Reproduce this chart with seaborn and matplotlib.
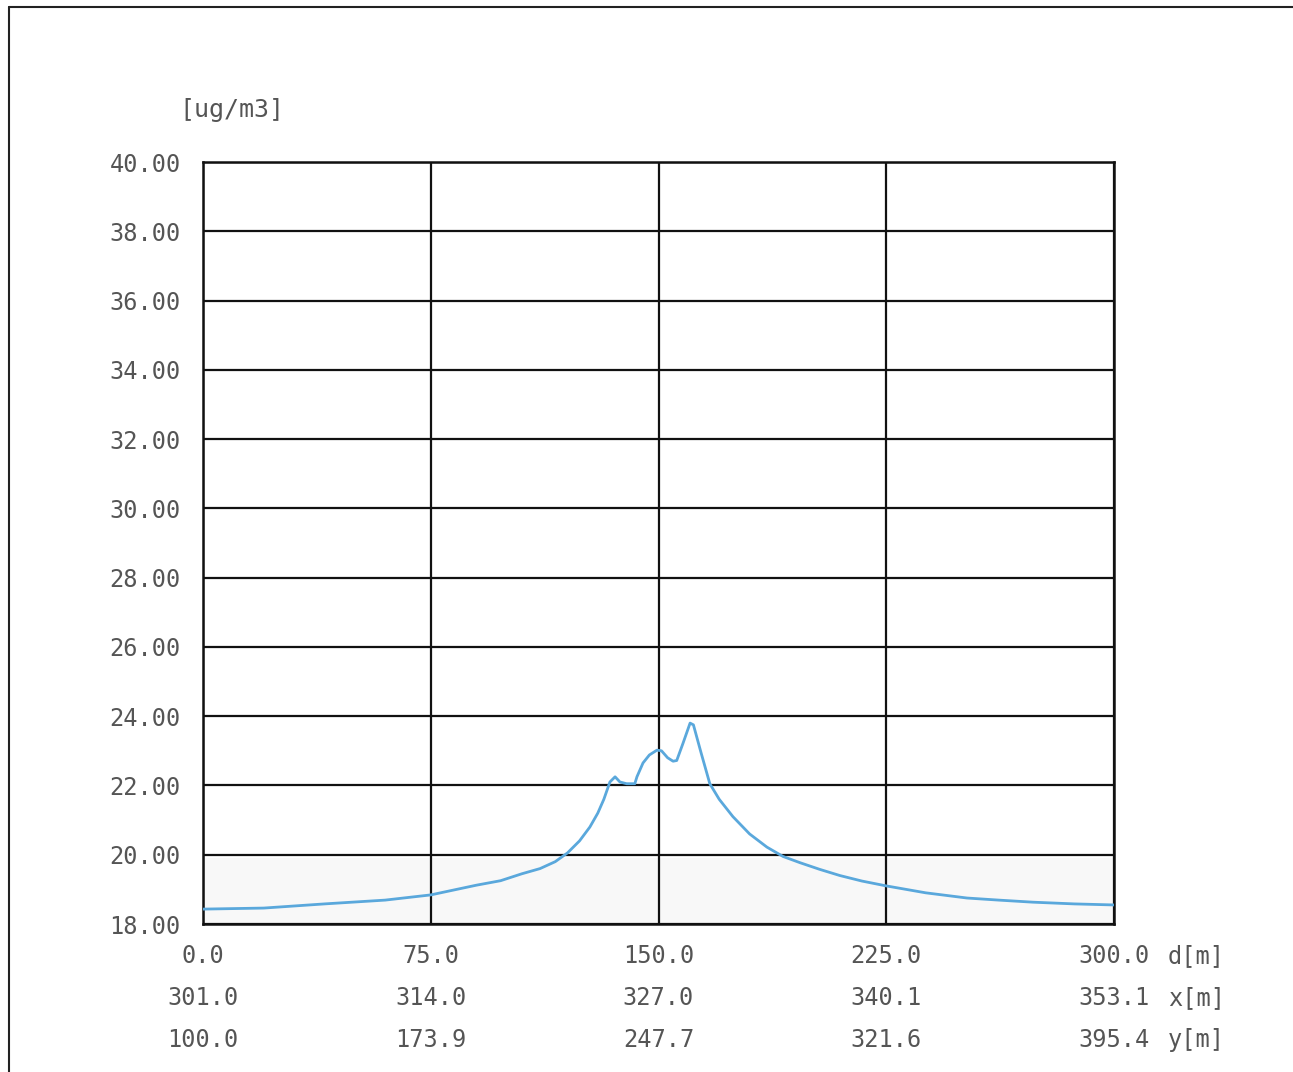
import matplotlib
matplotlib.use("Agg")
import matplotlib.pyplot as plt
import matplotlib.lines as mlines
import seaborn as sns
import pandas as pd
from matplotlib.transforms import blended_transform_factory

# ---- data ----
distance_m = [0, 20, 40, 60, 75, 90, 98, 105, 111, 116, 120, 124, 127.4, 130, 132,
              134, 135.7, 137.3, 139.5, 142.2, 142.9, 144.9, 147, 149.5, 151, 153,
              154.8, 156, 158, 160.4, 161.5, 164, 166.9, 170, 174.5, 180, 185.7,
              191, 196.6, 203, 209.7, 217, 225, 238, 251.6, 262, 273.3, 287, 300]
concentration = [18.43, 18.46, 18.58, 18.69, 18.84, 19.12, 19.25, 19.45, 19.6, 19.8,
                 20.05, 20.4, 20.8, 21.2, 21.6, 22.1, 22.25, 22.1, 22.05, 22.05,
                 22.25, 22.65, 22.88, 23.02, 23.0, 22.8, 22.7, 22.72, 23.2, 23.8,
                 23.75, 22.95, 22.05, 21.6, 21.1, 20.6, 20.22, 19.95, 19.77, 19.58,
                 19.4, 19.24, 19.1, 18.9, 18.75, 18.69, 18.63, 18.58, 18.55]

d_ticks = [0, 75, 150, 225, 300]
d_labels = ["0.0", "75.0", "150.0", "225.0", "300.0"]
x_labels = ["301.0", "314.0", "327.0", "340.1", "353.1"]
y_labels = ["100.0", "173.9", "247.7", "321.6", "395.4"]
row_units = ["d[m]", "x[m]", "y[m]"]
conc_ticks = [18, 20, 22, 24, 26, 28, 30, 32, 34, 36, 38, 40]
unit_label = "[ug/m3]"

df = pd.DataFrame({"d": distance_m, "c": concentration})

sns.set_style("white")
plt.rcParams["font.family"] = ["DejaVu Sans Mono", "DejaVu Sans"]
TXT = "#555555"

W, H = 1293, 1072
fig = plt.figure(figsize=(W / 100, H / 100), dpi=100)
ax = fig.add_axes([203 / W, 1 - 924 / H, (1114 - 203) / W, (924 - 162) / H])

ax.axhspan(18, 19.9, color="#f8f8f8", zorder=0, lw=0)

sns.lineplot(data=df, x="d", y="c", ax=ax, color="#5aa8dc", lw=2.0, zorder=5)

ax.set_xlim(0, 300)
ax.set_ylim(18, 40)
ax.set_xticks(d_ticks)
ax.set_xticklabels([])
ax.set_yticks(conc_ticks)
ax.set_yticklabels([f"{v:.2f}" for v in conc_ticks], fontsize=17, color=TXT)
ax.tick_params(axis="both", length=0)
ax.tick_params(axis="y", pad=16)
ax.set_xlabel("")
ax.set_ylabel("")
ax.grid(True, color="#111111", lw=1.6)
ax.set_axisbelow(True)
for s in ax.spines.values():
    s.set_color("#111111")
    s.set_linewidth(1.8)

tr = blended_transform_factory(ax.transData, ax.transAxes)
rows = [d_labels, x_labels, y_labels]
row_y = [-0.042, -0.097, -0.152]
for labels, yy in zip(rows, row_y):
    for t, lab in zip(d_ticks, labels):
        ax.text(t, yy, lab, transform=tr, ha="center", va="center",
                fontsize=17, color=TXT)
for unit, yy in zip(row_units, row_y):
    ax.text(1168 / W, 1 - (924 - yy * 762) / H, unit, transform=fig.transFigure,
            ha="left", va="center", fontsize=17, color=TXT)

fig.text(232 / W, 1 - 110 / H, unit_label, ha="center", va="center",
         fontsize=18, color=TXT)

# page border lines of the scanned sheet
fig.add_artist(mlines.Line2D([9 / W, 1.0], [1 - 7 / H, 1 - 7 / H],
                             transform=fig.transFigure, color="#222222", lw=1.5))
fig.add_artist(mlines.Line2D([9 / W, 9 / W], [1 - 7 / H, 0.0],
                             transform=fig.transFigure, color="#222222", lw=1.5))

fig.savefig("out.png", dpi=100)
